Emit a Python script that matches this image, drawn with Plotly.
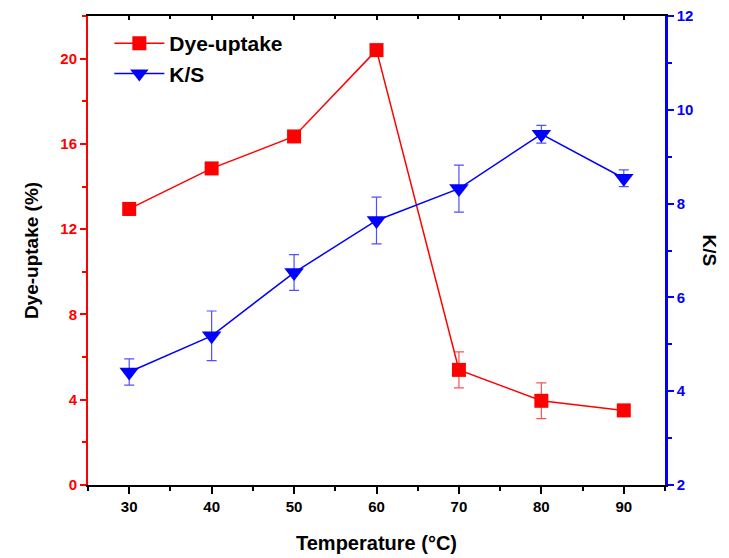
import plotly.graph_objects as go

temperature = [30, 40, 50, 60, 70, 80, 90]
dye_uptake = [12.95, 14.85, 16.35, 20.4, 5.4, 3.95, 3.5]
dye_err = [0.3, 0.1, 0.1, 0.1, 0.84, 0.84, 0.1]
ks = [4.41, 5.18, 6.53, 7.64, 8.32, 9.48, 8.54]
ks_err = [0.28, 0.53, 0.38, 0.5, 0.5, 0.19, 0.18]

x_ticks = [30, 40, 50, 60, 70, 80, 90]
y1_ticks = [0, 4, 8, 12, 16, 20]
y2_ticks = [2, 4, 6, 8, 10, 12]

FONT = "Liberation Sans"
RED = "#ff0000"
BLUE = "#0000ff"

def bold(vals):
    return ["<b>%s</b>" % v for v in vals]

fig = go.Figure()
fig.add_trace(go.Scatter(
    x=temperature, y=dye_uptake, name="Dye-uptake",
    mode="lines+markers",
    line=dict(color=RED, width=1.5),
    marker=dict(symbol="square", size=14, color=RED),
    error_y=dict(type="data", array=dye_err, color="#ff5050", thickness=1.2, width=5),
    yaxis="y",
))
fig.add_trace(go.Scatter(
    x=temperature, y=ks, name="K/S",
    mode="lines+markers",
    line=dict(color=BLUE, width=1.5),
    marker=dict(symbol="triangle-down", size=17, color=BLUE),
    error_y=dict(type="data", array=ks_err, color="#5050ff", thickness=1.2, width=5),
    yaxis="y2",
))
# invisible helper so the top frame axis is drawn
fig.add_trace(go.Scatter(x=[None], y=[None], xaxis="x2", yaxis="y",
                         showlegend=False, hoverinfo="skip"))

fig.update_layout(
    width=721, height=550,
    margin=dict(l=80, r=64, t=8, b=73, autoexpand=False),
    plot_bgcolor="white", paper_bgcolor="white",
    font=dict(family=FONT, size=13, color="black"),
    showlegend=True,
    legend=dict(x=0.037, y=0.985, xanchor="left", yanchor="top",
                font=dict(family=FONT, size=21, color="black", weight="bold"),
                bgcolor="rgba(0,0,0,0)", itemwidth=50, tracegroupgap=0),
    xaxis=dict(
        range=[25, 95], tickvals=x_ticks, ticktext=bold(x_ticks),
        ticks="outside", ticklen=7, tickwidth=1.5,
        tickcolor="black", showline=True, linecolor="black", linewidth=2,
        showgrid=False, zeroline=False, automargin=False,
        tickfont=dict(family=FONT, size=15, color="black"),
        minor=dict(dtick=5, tick0=25, ticks="outside", ticklen=4, tickwidth=1.5, tickcolor="black"),
        title=dict(text="<b>Temperature (°C)</b>", standoff=22,
                   font=dict(family=FONT, size=20, color="black")),
    ),
    xaxis2=dict(
        range=[25, 95], overlaying="x", side="top", tickvals=x_ticks,
        ticks="inside", ticklen=4, tickwidth=1.5, tickcolor="black",
        showline=True, linecolor="black", linewidth=2, showticklabels=False,
        showgrid=False, zeroline=False, automargin=False,
        minor=dict(dtick=5, tick0=25, ticks="inside", ticklen=3, tickwidth=1.5, tickcolor="black"),
    ),
    yaxis=dict(
        range=[0, 22], tickvals=y1_ticks, ticktext=bold(y1_ticks),
        ticks="outside", ticklen=6, tickwidth=1.5,
        tickcolor=RED, showline=True, linecolor=RED, linewidth=2,
        showgrid=False, zeroline=False, automargin=False,
        tickfont=dict(family=FONT, size=15, color=RED),
        minor=dict(dtick=2, tick0=0, ticks="outside", ticklen=4, tickwidth=1.5, tickcolor=RED),
        title=dict(text="<b>Dye-uptake (%)</b>", standoff=17,
                   font=dict(family=FONT, size=19, color="black")),
    ),
    yaxis2=dict(
        range=[2, 12], tickvals=y2_ticks, ticktext=bold(y2_ticks),
        overlaying="y", side="right", ticklabeloverflow="allow",
        ticks="outside", ticklen=6, tickwidth=1.5, tickcolor=BLUE,
        showline=True, linecolor=BLUE, linewidth=2.5,
        showgrid=False, zeroline=False, automargin=False,
        tickfont=dict(family=FONT, size=15, color=BLUE),
        minor=dict(dtick=1, tick0=2, ticks="outside", ticklen=4, tickwidth=1.5, tickcolor=BLUE),
    ),
    annotations=[dict(
        text="<b>K/S</b>", xref="paper", yref="paper", x=1.0, y=0.5,
        xanchor="center", yanchor="middle",
        xshift=44, showarrow=False, textangle=90,
        font=dict(family=FONT, size=19, color="black"),
    )],
)

fig.write_html("out.html")
